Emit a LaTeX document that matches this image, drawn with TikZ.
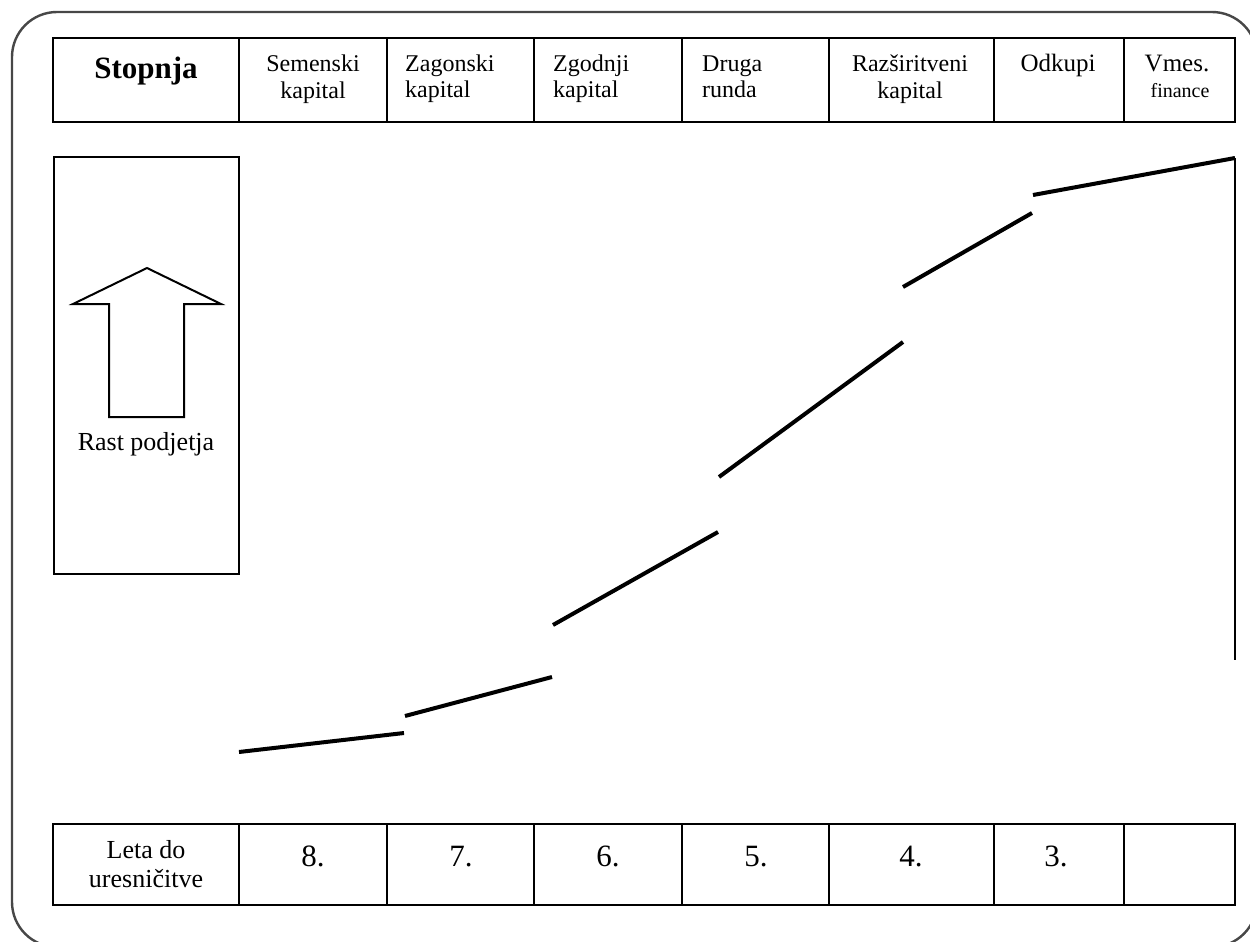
\documentclass[tikz,border=0pt]{standalone}
\usepackage{fontspec}
\setmainfont{Liberation Serif}
\newcommand{\fsz}[2]{\fontsize{#1}{#2}\selectfont}
\begin{document}
\begin{tikzpicture}[x=1pt,y=-1pt,
  frame/.style={line width=2.4pt, draw=black!72, rounded corners=45pt},
  grid/.style={line width=2pt, draw=black},
  seg/.style={line width=4pt, draw=black},
  lbl/.style={inner sep=0pt, anchor=base, font=\fsz{24}{26}},
  lbll/.style={lbl, anchor=base west, align=left},
  lblc/.style={lbl, align=center},
  num/.style={inner sep=0pt, anchor=base, font=\fsz{31}{34}},
  row/.style={inner sep=0pt, anchor=base, align=center, font=\fsz{26}{29}}]
\useasboundingbox (0,0) rectangle (1250,942);

% outer frame, running past the right and bottom edges
\begin{scope}
  \clip (0,0) rectangle (1250,942);
  \draw[frame] (12,12) rectangle (1257,947);
\end{scope}

% header row
\draw[grid] (53,38) rectangle (1235,122);
\foreach \cx in {239,387,534,682,829,994,1124}
  \draw[grid] (\cx,38) -- (\cx,122);

% two-line labels are anchored on the baseline of their last line
\node[inner sep=0pt, anchor=base, font=\bfseries\fsz{31}{34}] (stopnja) at (146,78) {Stopnja};
\node[lblc] (semenski) at (313,98) {Semenski\\kapital};
\node[lbll] (zagonski) at (405,97) {Zagonski\\kapital};
\node[lbll] (zgodnji) at (553,97) {Zgodnji\\kapital};
\node[lbll] (druga) at (702,97) {Druga\\runda};
\node[lblc] (razsir) at (910,98) {Razširitveni\\kapital};
\node[lbl, font=\fsz{25}{27}] (odkupi) at (1058,72) {Odkupi};
\node[lbl, font=\fsz{25}{27}] (vmes) at (1177,72) {Vmes.};
\node[inner sep=0pt, anchor=base, font=\fsz{20}{22}] (finance) at (1180,97) {finance};

% growth box with the hollow arrow
\draw[grid] (54,157) rectangle (239,574);
\draw[line width=2pt, line join=miter]
  (109,417) -- (109,304) -- (73,304) -- (147,268) -- (221,304)
  -- (184,304) -- (184,417) -- cycle;
\node[inner sep=0pt, anchor=base, font=\fsz{26}{29}] (rast) at (146,450) {Rast podjetja};

% staged growth curve
\draw[seg] (239,752) -- (404,733);
\draw[seg] (405,716) -- (552,677);
\draw[seg] (553,625) -- (718,532);
\draw[seg] (719,477) -- (903,342);
\draw[seg] (903,287) -- (1032,213);
\draw[seg] (1033,195) -- (1235,158);
\draw[line width=2pt] (1235,158) -- (1235,660);

% bottom row: years to exit
\draw[grid] (53,824) rectangle (1235,905);
\foreach \cx in {239,387,534,682,829,994,1124}
  \draw[grid] (\cx,824) -- (\cx,905);

\node[row] (leta) at (146,887) {Leta do\\uresničitve};
\node[num] (y8) at (313,866) {8.};
\node[num] (y7) at (461,866) {7.};
\node[num] (y6) at (608,866) {6.};
\node[num] (y5) at (756,866) {5.};
\node[num] (y4) at (911,866) {4.};
\node[num] (y3) at (1056,866) {3.};
\end{tikzpicture}
\end{document}
